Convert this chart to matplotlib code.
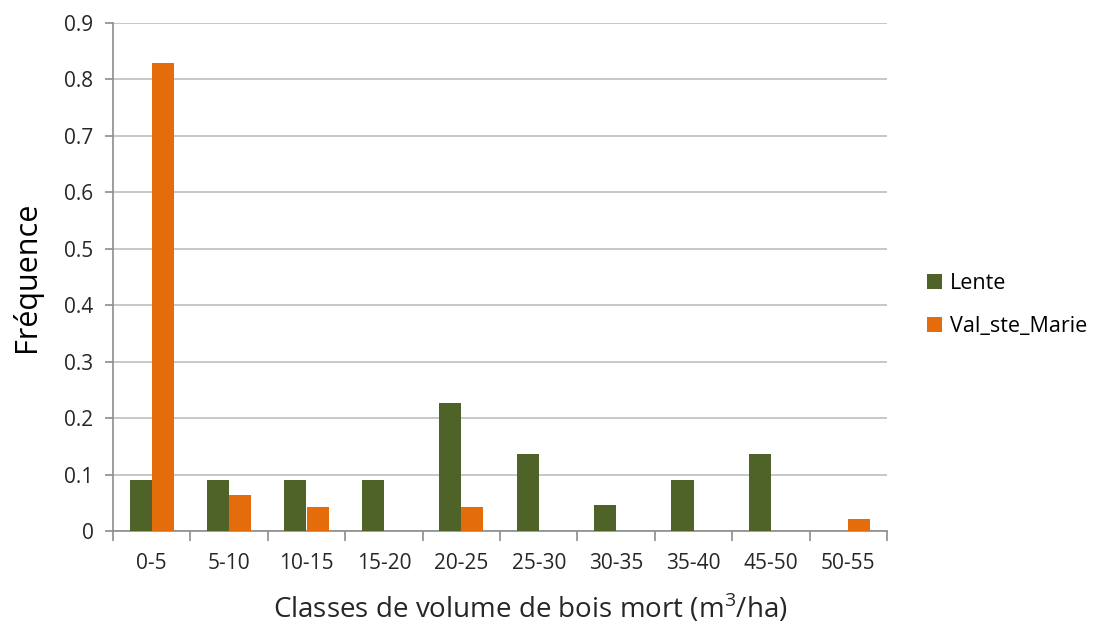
import matplotlib
matplotlib.use("Agg")
import matplotlib.pyplot as plt
import numpy as np

plt.rcParams['font.family'] = ['Open Sans', 'DejaVu Sans']
plt.rcParams['mathtext.fontset'] = 'custom'
plt.rcParams['mathtext.rm'] = 'Open Sans'

classes = ["0-5", "5-10", "10-15", "15-20", "20-25", "25-30", "30-35", "35-40", "45-50", "50-55"]
lente = [2/22, 2/22, 2/22, 2/22, 5/22, 3/22, 1/22, 2/22, 3/22, 0]
val_ste_marie = [39/47, 3/47, 2/47, 0, 2/47, 0, 0, 0, 0, 1/47]

green = "#4F6228"
orange = "#E46C0A"

fig = plt.figure(figsize=(11.02, 6.23), dpi=100)
ax = fig.add_axes([113/1102, 1 - 531/623, 774/1102, 508/623])

x = np.arange(len(classes))
w = 0.285
ax.bar(x - w/2, lente, width=w, color=green, label="Lente", zorder=3)
ax.bar(x + w/2, val_ste_marie, width=w, color=orange, label="Val_ste_Marie", zorder=3)

ax.set_xlim(-0.5, len(classes) - 0.5)
ax.set_ylim(0, 0.9)
ax.set_yticks(np.arange(0, 0.91, 0.1))
ax.set_yticklabels(["0"] + [f"{v:.1f}" for v in np.arange(0.1, 0.91, 0.1)])
ax.yaxis.grid(True, color="#BEBEBE", linewidth=1.2, zorder=0)
ax.set_axisbelow(True)

ax.set_xticks(x)
ax.set_xticklabels(classes)
ax.set_xticks(np.arange(-0.5, len(classes)), minor=True)
ax.tick_params(axis="x", which="major", length=0, pad=16, labelsize=15, colors="#262626")
ax.tick_params(axis="x", which="minor", length=7, color="#8C8C8C", width=1.2)
ax.tick_params(axis="y", length=6, color="#8C8C8C", width=1.2, pad=8, labelsize=15, colors="#262626")

for side in ["top", "right"]:
    ax.spines[side].set_visible(False)
ax.spines["left"].set_color("#8C8C8C")
ax.spines["bottom"].set_color("#8C8C8C")
ax.spines["left"].set_linewidth(1.2)
ax.spines["bottom"].set_linewidth(1.2)

ax.set_ylabel("Fréquence", fontsize=22, color="#000000", labelpad=16)
ax.set_xlabel("Classes de volume de bois mort (m$^3$/ha)", fontsize=20, color="#262626")
ax.xaxis.set_label_coords((530 - 113) / 774, -(592 - 531) / 508)
ax.xaxis.label.set_va("top")

leg = fig.legend(loc="upper left", bbox_to_anchor=(908/1102, 1 - 254/623), frameon=False,
                 fontsize=15.5, handlelength=0.7, handleheight=0.7, handletextpad=0.35,
                 labelspacing=1.0)

fig.savefig("out.png", dpi=100)
